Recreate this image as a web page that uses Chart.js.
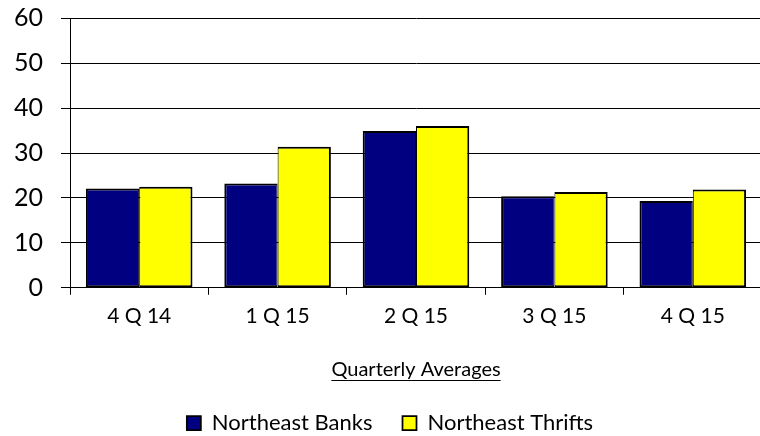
<!DOCTYPE html>
<html>
<head>
<meta charset="utf-8">
<script src="https://cdn.jsdelivr.net/npm/chart.js@4/dist/chart.umd.min.js"></script>
<style>
  html, body { margin: 0; padding: 0; background: #fff; overflow: hidden; }
  #wrap { width: 762px; height: 436px; }
</style>
</head>
<body>
<div id="wrap"><canvas id="chart" width="762" height="436"></canvas></div>
<script>
var quarters = ["4 Q 14", "1 Q 15", "2 Q 15", "3 Q 15", "4 Q 15"];
var banks = [22.1, 23.2, 34.9, 20.4, 19.3];
var thrifts = [22.5, 31.4, 36.0, 21.3, 21.9];
var axisTitle = "Quarterly Averages";

var fontFamily = "Lato, 'Open Sans', sans-serif";

// chart.js has no underline for axis titles, so draw one under the x title
var underlineTitle = {
    id: "underlineTitle",
    afterDraw: function (chart) {
        var scale = chart.scales.x;
        var opts = scale.options.title;
        var font = Chart.helpers.toFont(opts.font);
        var pad = Chart.helpers.toPadding(opts.padding);
        var ctx = chart.ctx;
        var cy = scale.bottom - pad.bottom - font.lineHeight / 2;
        var cx = (scale.left + scale.right) / 2;
        ctx.save();
        ctx.font = font.string;
        var w = ctx.measureText(opts.text).width;
        ctx.strokeStyle = "#000";
        ctx.lineWidth = 1;
        var uy = Math.round(cy + font.size * 0.48) + 0.5;
        ctx.beginPath();
        ctx.moveTo(cx - w / 2, uy);
        ctx.lineTo(cx + w / 2, uy);
        ctx.stroke();
        ctx.restore();
    }
};

// legend sits a bit right of the canvas centre in the original
var nudgeLegend = {
    id: "nudgeLegend",
    afterLayout: function (chart) {
        if (!chart.legend) return;
        chart.legend.left += 11;
        chart.legend.right += 11;
    }
};

new Chart(document.getElementById("chart"), {
    type: "bar",
    data: {
        labels: quarters,
        datasets: [
            {
                label: "Northeast Banks",
                data: banks,
                backgroundColor: "#000080",
                borderColor: "#000",
                borderWidth: { top: 2, left: 2, bottom: 2, right: 1 },
                borderSkipped: false
            },
            {
                label: "Northeast Thrifts",
                data: thrifts,
                backgroundColor: "#ffff00",
                borderColor: "#000",
                borderWidth: { top: 2, left: 1, bottom: 2, right: 2 },
                borderSkipped: false
            }
        ]
    },
    options: {
        responsive: false,
        animation: false,
        layout: {
            padding: { left: -4, right: 0, top: 0, bottom: -8 }
        },
        datasets: {
            bar: {
                categoryPercentage: 0.77,
                barPercentage: 1.0
            }
        },
        plugins: {
            legend: {
                position: "bottom",
                labels: {
                    color: "#000",
                    boxWidth: 14,
                    boxHeight: 14,
                    padding: 30,
                    font: { family: fontFamily, size: 22 }
                }
            },
            tooltip: { enabled: false }
        },
        scales: {
            x: {
                grid: {
                    drawOnChartArea: false,
                    drawTicks: true,
                    tickLength: 7,
                    color: "#000",
                    offset: true
                },
                border: { color: "#000", width: 1 },
                ticks: {
                    color: "#000",
                    padding: 9,
                    font: { family: fontFamily, size: 21 }
                },
                title: {
                    display: true,
                    text: axisTitle,
                    color: "#000",
                    padding: { top: 20, bottom: 0 },
                    font: { family: fontFamily, size: 20 }
                }
            },
            y: {
                min: 0,
                max: 60,
                grid: {
                    color: "#000",
                    tickLength: 9
                },
                border: { color: "#000", width: 1 },
                ticks: {
                    stepSize: 10,
                    color: "#000",
                    padding: 18,
                    font: { family: fontFamily, size: 25, lineHeight: 0.02 }
                }
            }
        }
    },
    plugins: [underlineTitle, nudgeLegend]
});
</script>
</body>
</html>
